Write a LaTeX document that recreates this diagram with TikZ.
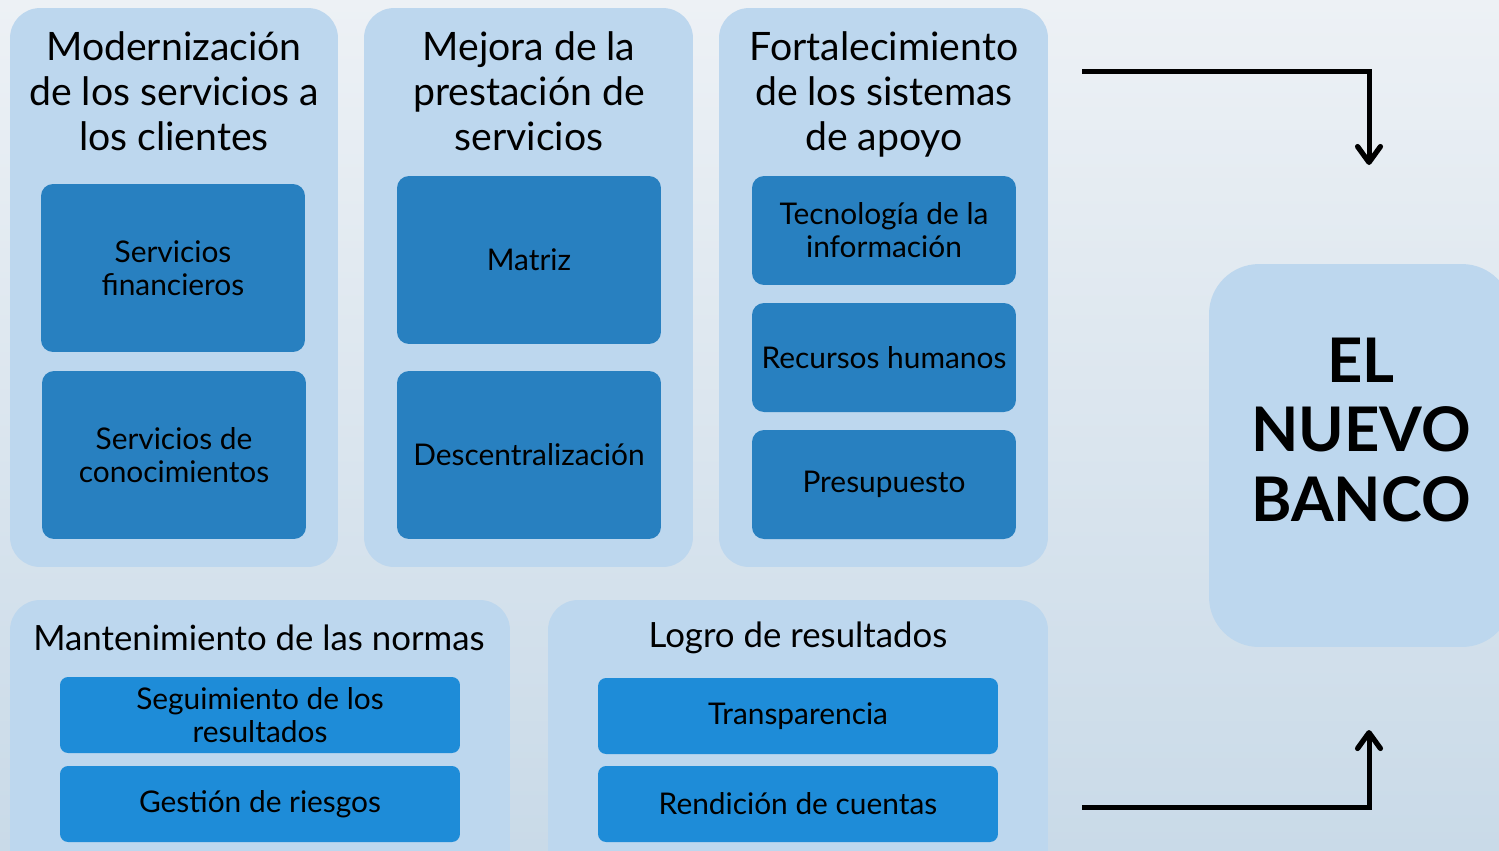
\documentclass[tikz,border=0pt]{standalone}
\usepackage{fontspec}
\setmainfont{Lato}
\usetikzlibrary{positioning,arrows.meta}

\definecolor{panelblue}{HTML}{BDD7EE}
\definecolor{itemblue}{HTML}{2880C0}
\definecolor{itembright}{HTML}{1E8CD8}
\definecolor{bgtop}{HTML}{EDF1F5}
\definecolor{bgmid}{HTML}{F8FAFC}
\definecolor{bgbot}{HTML}{C9DAE8}

\tikzset{
  panel/.style={rectangle,rounded corners=0.6cm,fill=panelblue,inner sep=0pt},
  item/.style={rectangle,rounded corners=0.24cm,fill=itemblue,inner sep=0pt,
    align=center,font=\fontsize{17}{18.8}\selectfont},
  itemlow/.style={item,fill=itembright,rounded corners=0.16cm},
  paneltitle/.style={align=center,font=\fontsize{22.3}{25.6}\selectfont},
  lowtitle/.style={align=center,font=\fontsize{19.8}{22}\selectfont},
  flow/.style={line width=0.1cm,-{Straight Barb[length=9pt,width=13pt,line width=3pt,round]}}
}

\begin{document}
\begin{tikzpicture}[x=0.02cm,y=0.02cm]
    \useasboundingbox (0,0) rectangle (1499,-850);
    \shade[top color=bgtop,middle color=bgmid,bottom color=bgbot] (0,0) rectangle (1499,-850);

    % upper panels
    \node[panel,minimum width=6.56cm,minimum height=11.18cm] (p1) at (174,-287.5) {};
    \node[panel,minimum width=6.58cm,minimum height=11.18cm] (p2) at (528.5,-287.5) {};
    \node[panel,minimum width=6.58cm,minimum height=11.18cm] (p3) at (883.5,-287.5) {};
    \node[paneltitle] (t1) at (174,-91) {Modernización\\de los servicios a\\los clientes};
    \node[paneltitle] (t2) at (529,-91) {Mejora de la\\prestación de\\servicios};
    \node[paneltitle] (t3) at (884,-94) {Fortalecimiento\\de los sistemas\\de apoyo};

    \node[item,minimum width=5.28cm,minimum height=3.36cm] (sf) at (173,-268) {Servicios\\financieros};
    \node[item,minimum width=5.28cm,minimum height=3.36cm] (sc) at (174,-455) {Servicios de\\conocimientos};
    \node[item,minimum width=5.28cm,minimum height=3.36cm] (mz) at (529,-260) {Matriz};
    \node[item,minimum width=5.28cm,minimum height=3.36cm] (dc) at (529,-455) {Descentralización};
    \node[item,minimum width=5.28cm,minimum height=2.18cm] (ti) at (884,-230.5) {Tecnología de la\\información};
    \node[item,minimum width=5.28cm,minimum height=2.18cm] (rh) at (884,-357.5) {Recursos humanos};
    \node[item,minimum width=5.28cm,minimum height=2.18cm] (pr) at (884,-484.5) {Presupuesto};

    % lower panels
    \node[panel,minimum width=10cm,minimum height=5.6cm] (p4) at (260,-740) {};
    \node[panel,minimum width=10cm,minimum height=5.6cm] (p5) at (798,-740) {};
    \node[lowtitle] (t4) at (259,-638) {Mantenimiento de las normas};
    \node[lowtitle] (t5) at (798,-638) {Logro de resultados};

    \node[itemlow,minimum width=8cm,minimum height=1.52cm] (sr) at (260,-715) {Seguimiento de los\\resultados};
    \node[itemlow,minimum width=8cm,minimum height=1.52cm] (gr) at (260,-804) {Gestión de riesgos};
    \node[itemlow,minimum width=8cm,minimum height=1.52cm] (tr) at (798,-716) {Transparencia};
    \node[itemlow,minimum width=8cm,minimum height=1.52cm] (rc) at (798,-804) {Rendición de cuentas};

    % target
    \node[panel,rounded corners=1cm,minimum width=6.06cm,minimum height=7.66cm] (nb) at (1360.5,-455.5) {};
    \node[align=center,font=\fontsize{35}{39.8}\bfseries\selectfont] (nbt) at (1361,-430) {EL\\NUEVO\\BANCO};

    % arrows
    \coordinate (a1) at (1082,-71);
    \coordinate (a1t) at (1369,-165);
    \coordinate (a2) at (1082,-807);
    \coordinate (a2t) at (1369,-730);
    \draw[flow] (a1) -| (a1t);
    \draw[flow] (a2) -| (a2t);
\end{tikzpicture}
\end{document}
